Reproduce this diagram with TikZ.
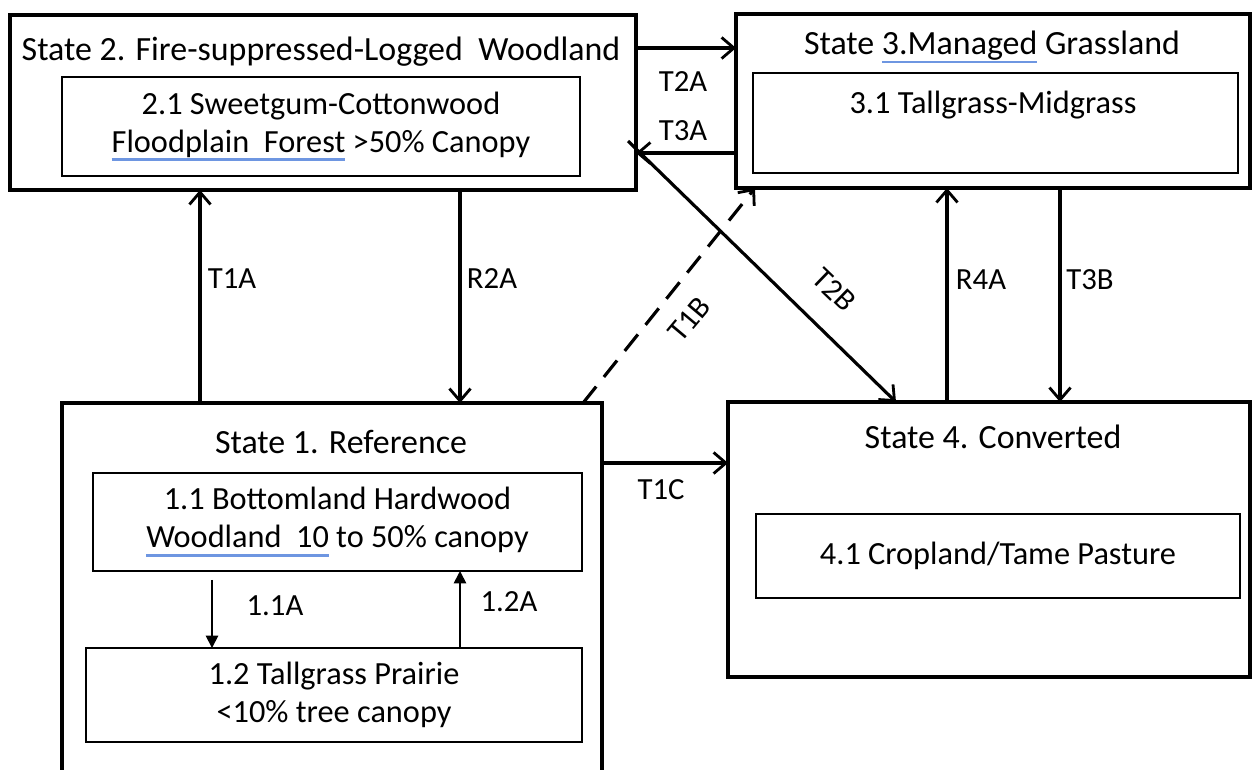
\documentclass[tikz,border=0pt]{standalone}
\usepackage{fontspec}
\setmainfont{Carlito}
\usetikzlibrary{arrows.meta}
\definecolor{ulblue}{RGB}{110,150,225}
\newcommand\squ[1]{\setbox0\hbox{#1}\leavevmode\rlap{\color{ulblue}\rule[-5pt]{\wd0}{1.5pt}}\box0\relax}
\begin{document}
\begin{tikzpicture}[x=0.02cm,y=-0.02cm,
  outer/.style={draw,line width=1.8pt,inner sep=0,outer sep=0},
  inner/.style={draw,line width=1pt,inner sep=0,outer sep=0,font=\fontsize{18.4}{21.5}\selectfont,align=center},
  txt/.style={font=\fontsize{19.3}{21.5}\selectfont,align=center,inner sep=0},
  itxt/.style={font=\fontsize{18.4}{21.5}\selectfont,align=center,inner sep=0},
  lbl/.style={font=\fontsize{17.5}{20}\selectfont,inner sep=0},
  arr/.style={line width=1.8pt,-{Straight Barb[length=7pt,width=12pt,line width=1.6pt]}},
  sarr/.style={line width=1pt,-{Triangle[length=7pt,width=7pt]}}]
\useasboundingbox (0,0) rectangle (1254,769);
\clip (0,0) rectangle (1254,769);
% State boxes
\node[outer,minimum width=12.52cm,minimum height=3.5cm] (s2) at (323,102.5) {};
\node[outer,minimum width=10.28cm,minimum height=3.48cm] (s3) at (993,101) {};
\node[outer,minimum width=10.8cm,minimum height=7.74cm] (s1) at (332,596.5) {};
\node[outer,minimum width=10.44cm,minimum height=5.5cm] (s4) at (989,539.5) {};
% titles
\node[txt] (s2t) at (321,52) {State 2. Fire-suppressed-Logged\ \ Woodland};
\node[txt] (s3t) at (992,47) {State \squ{3.Managed} Grassland};
\node[txt] (s1t) at (341,442) {State 1. Reference};
\node[txt] (s4t) at (993,437) {State 4. Converted};
% inner boxes
\node[inner,minimum width=10.36cm,minimum height=1.98cm] (i21) at (321,126.5) {2.1 Sweetgum-Cottonwood\\\squ{Floodplain\ \ Forest} >50\% Canopy};
\node[inner,minimum width=9.7cm,minimum height=2cm] (i31) at (995.5,123) {};
\node[itxt] (i31t) at (993,105) {3.1 Tallgrass-Midgrass};
\node[inner,minimum width=9.78cm,minimum height=1.96cm] (i11) at (337.5,522) {1.1 Bottomland Hardwood\\\squ{Woodland\ \ 10} to 50\% canopy};
\node[inner,minimum width=9.92cm,minimum height=1.88cm] (i12) at (334,695) {1.2 Tallgrass Prairie\\<10\% tree canopy};
\node[inner,minimum width=9.68cm,minimum height=1.68cm] (i41) at (998,556) {4.1 Cropland/Tame Pasture};
% connectors
\coordinate (t2bs) at (628,141);
\draw[arr] (s2.east |- 0,48) -- (s3.west |- 0,48);
\draw[arr] (s3.west |- 0,153) -- (s2.east |- 0,153);
\draw[arr] (t2bs) -- (s4.north -| 896,0);
\draw[arr,dashed,dash pattern=on 12pt off 7pt] (s1.north -| 583,0) -- (s3.south -| 755,0);
\draw[arr] (s1.north -| 200,0) -- (s2.south -| 200,0);
\draw[arr] (s2.south -| 460,0) -- (s1.north -| 460,0);
\draw[arr] (s4.north -| 947,0) -- (s3.south -| 947,0);
\draw[arr] (s3.south -| 1060,0) -- (s4.north -| 1060,0);
\draw[arr] (s1.east |- 0,463) -- (s4.west |- 0,463);
\draw[sarr,shorten <=5pt] (i11.south -| 212,0) -- (i12.north -| 212,0);
\draw[sarr] (i12.north -| 460,0) -- (i11.south -| 460,0);
% labels
\node[lbl] (lt1a) at (232,279) {T1A};
\node[lbl] (lr2a) at (492,279) {R2A};
\node[lbl] (lr4a) at (981,280) {R4A};
\node[lbl] (lt3b) at (1090,280) {T3B};
\node[lbl] (lt2a) at (683,82) {T2A};
\node[lbl] (lt3a) at (683,131) {T3A};
\node[lbl] (lt1c) at (661,490) {T1C};
\node[lbl,rotate=50] (lt1b) at (689,319) {T1B};
\node[lbl,rotate=-44] (lt2b) at (834,290) {T2B};
\node[lbl] (l11a) at (275,606) {1.1A};
\node[lbl] (l12a) at (509,602) {1.2A};
\end{tikzpicture}
\end{document}
